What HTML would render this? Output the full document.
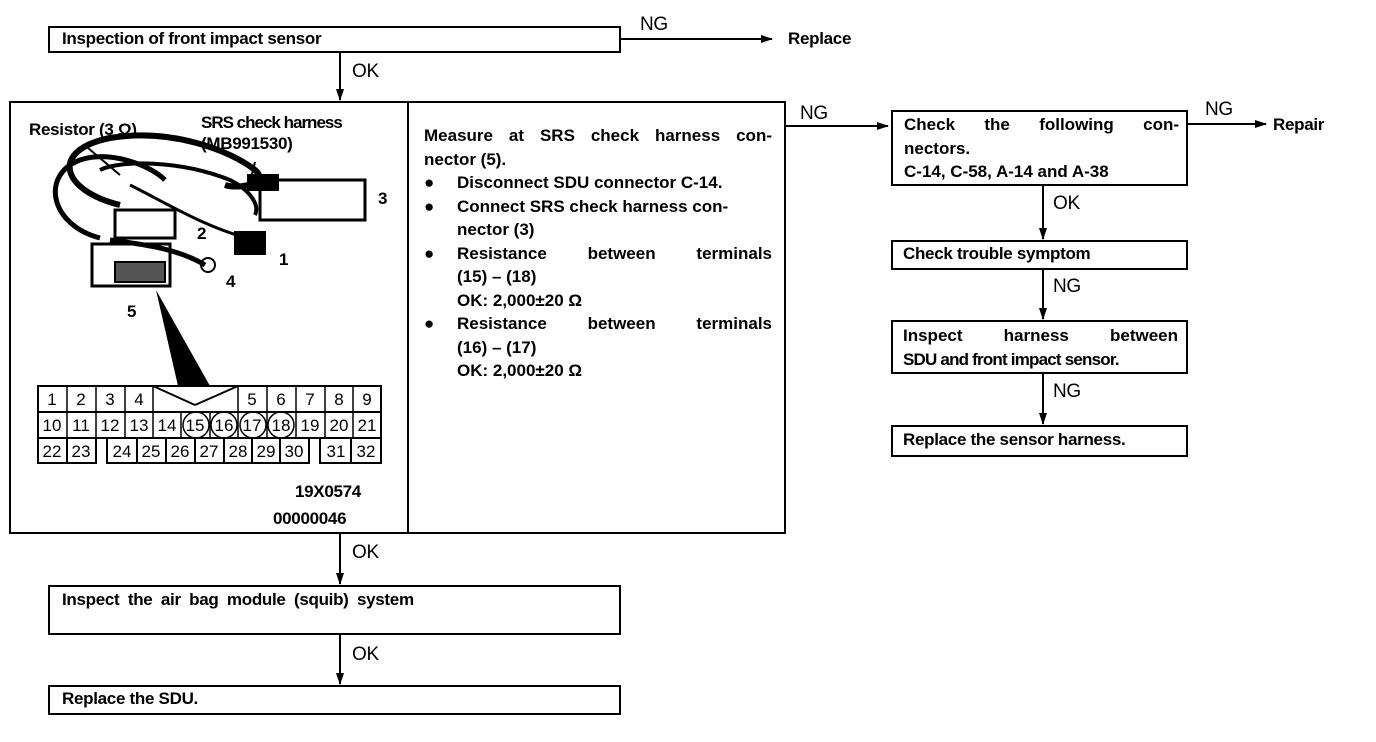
<!DOCTYPE html>
<html><head><meta charset="utf-8"><style>
body{margin:0;background:#fff;width:1376px;height:742px;position:relative;overflow:hidden;font-family:"Liberation Sans",Arial,sans-serif;font-weight:bold;color:#000}
.b{position:absolute;border:2px solid #000;box-sizing:border-box}
.t{position:absolute;font-size:17px;white-space:nowrap;letter-spacing:-0.3px}
.j{position:absolute;font-size:17px;line-height:23.5px}
.j div{text-align:justify;text-align-last:justify;height:23.5px;position:relative}
.j div.l{text-align-last:left}
.j div.p{padding-left:33px}
.j div span.d{position:absolute;left:0;top:0}
</style></head><body>
<svg width="1376" height="742" style="position:absolute;left:0;top:0">
<defs><marker id="a" markerWidth="12" markerHeight="8" refX="11" refY="4" orient="auto" markerUnits="userSpaceOnUse"><path d="M0,0 L12,4 L0,8 z"/></marker></defs>
<g stroke="#000" stroke-width="2" fill="none">
<line x1="620" y1="39" x2="772" y2="39" marker-end="url(#a)"/>
<line x1="340" y1="53" x2="340" y2="100" marker-end="url(#a)"/>
<line x1="786" y1="126" x2="888" y2="126" marker-end="url(#a)"/>
<line x1="1187" y1="124" x2="1266" y2="124" marker-end="url(#a)"/>
<line x1="1043" y1="186" x2="1043" y2="239" marker-end="url(#a)"/>
<line x1="1043" y1="270" x2="1043" y2="319" marker-end="url(#a)"/>
<line x1="1043" y1="374" x2="1043" y2="424" marker-end="url(#a)"/>
<line x1="340" y1="534" x2="340" y2="584" marker-end="url(#a)"/>
<line x1="340" y1="635" x2="340" y2="684" marker-end="url(#a)"/>
<line x1="408" y1="102" x2="408" y2="533"/>
<!-- illustration -->
<path d="M120,205 C60,190 50,150 110,138 C170,128 230,150 255,170 C270,182 240,190 225,185" stroke-width="6"/>
<path d="M100,238 C50,225 40,175 80,160 C110,150 150,165 165,180" stroke-width="5"/>
<path d="M100,170 C120,160 180,160 230,180 C250,190 260,205 255,215" stroke-width="4"/>
<path d="M130,185 C170,205 210,230 255,240" stroke-width="3"/>
<path d="M110,240 C150,245 180,250 205,265" stroke-width="5"/>
<path d="M88,148 L120,175"/><path d="M255,162 L250,182"/>
<rect x="115" y="210" width="60" height="28" stroke-width="3"/>
<rect x="260" y="180" width="105" height="40" stroke-width="3"/>
<rect x="235" y="232" width="30" height="22" fill="#000"/>
<rect x="248" y="175" width="30" height="15" fill="#000"/>
<rect x="92" y="244" width="78" height="42" stroke-width="3"/>
<rect x="115" y="262" width="50" height="20" fill="#555"/>
<circle cx="208" cy="265" r="7"/>
<line x1="153" y1="386" x2="195" y2="405"/><line x1="238" y1="386" x2="195" y2="405"/>
</g>
<polygon points="156,290 210,386 178,386" fill="#000"/>
<g stroke="#000" stroke-width="2" fill="none">
<rect x="38" y="386" width="343" height="26"/>
<rect x="38" y="412" width="343" height="26"/>
<rect x="38" y="438" width="29" height="25"/><rect x="67" y="438" width="29" height="25"/>
<rect x="107" y="438" width="30" height="25"/><rect x="137" y="438" width="29" height="25"/><rect x="166" y="438" width="29" height="25"/><rect x="195" y="438" width="29" height="25"/><rect x="224" y="438" width="28" height="25"/><rect x="252" y="438" width="28" height="25"/><rect x="280" y="438" width="29" height="25"/>
<rect x="320" y="438" width="31" height="25"/><rect x="351" y="438" width="30" height="25"/>
</g>
<g stroke="#000" stroke-width="1.5" fill="none">
<line x1="67" y1="386" x2="67" y2="412"/><line x1="96" y1="386" x2="96" y2="412"/><line x1="125" y1="386" x2="125" y2="412"/><line x1="153" y1="386" x2="153" y2="412"/>
<line x1="238" y1="386" x2="238" y2="412"/><line x1="267" y1="386" x2="267" y2="412"/><line x1="296" y1="386" x2="296" y2="412"/><line x1="325" y1="386" x2="325" y2="412"/><line x1="353" y1="386" x2="353" y2="412"/>
<line x1="67" y1="412" x2="67" y2="438"/><line x1="96" y1="412" x2="96" y2="438"/><line x1="125" y1="412" x2="125" y2="438"/><line x1="153" y1="412" x2="153" y2="438"/><line x1="181" y1="412" x2="181" y2="438"/><line x1="210" y1="412" x2="210" y2="438"/><line x1="238" y1="412" x2="238" y2="438"/><line x1="267" y1="412" x2="267" y2="438"/><line x1="296" y1="412" x2="296" y2="438"/><line x1="325" y1="412" x2="325" y2="438"/><line x1="353" y1="412" x2="353" y2="438"/>
<circle cx="196" cy="425" r="13"/><circle cx="224" cy="425" r="13"/><circle cx="253" cy="425" r="13"/><circle cx="281" cy="425" r="13"/>
</g>
<g font-family="Liberation Sans,sans-serif" font-size="17" font-weight="normal" text-anchor="middle">
<text x="52" y="405">1</text><text x="81" y="405">2</text><text x="110" y="405">3</text><text x="139" y="405">4</text><text x="252" y="405">5</text><text x="281" y="405">6</text><text x="310" y="405">7</text><text x="339" y="405">8</text><text x="367" y="405">9</text>
<text x="52" y="431">10</text><text x="81" y="431">11</text><text x="110" y="431">12</text><text x="139" y="431">13</text><text x="167" y="431">14</text><text x="195" y="431">15</text><text x="224" y="431">16</text><text x="252" y="431">17</text><text x="281" y="431">18</text><text x="310" y="431">19</text><text x="339" y="431">20</text><text x="367" y="431">21</text>
<text x="52" y="457">22</text><text x="81" y="457">23</text><text x="122" y="457">24</text><text x="151" y="457">25</text><text x="180" y="457">26</text><text x="209" y="457">27</text><text x="238" y="457">28</text><text x="266" y="457">29</text><text x="294" y="457">30</text><text x="336" y="457">31</text><text x="366" y="457">32</text>
</g>
</svg>
<div class="b" style="left:48px;top:26px;width:573px;height:27px"></div>
<div class="t" style="left:62px;top:29px">Inspection of front impact sensor</div>
<div class="t" style="left:640px;top:14px;font-weight:normal;font-size:19px">NG</div>
<div class="t" style="left:788px;top:29px">Replace</div>
<div class="t" style="left:352px;top:61px;font-weight:normal;font-size:19px">OK</div>
<div class="b" style="left:9px;top:101px;width:777px;height:433px"></div>
<div class="t" style="left:29px;top:120px">Resistor (3 Ω)</div>
<div class="t" style="left:201px;top:113px;letter-spacing:-1px">SRS check harness</div>
<div class="t" style="left:201px;top:134px">(MB991530)</div>
<div class="t" style="left:378px;top:189px">3</div>
<div class="t" style="left:197px;top:224px">2</div>
<div class="t" style="left:279px;top:250px">1</div>
<div class="t" style="left:226px;top:272px">4</div>
<div class="t" style="left:127px;top:302px">5</div>
<div class="t" style="left:295px;top:482px">19X0574</div>
<div class="t" style="left:273px;top:509px">00000046</div>
<div class="j" style="left:424px;top:124px;width:348px">
<div>Measure at SRS check harness con-</div>
<div class="l">nector (5).</div>
<div class="l p"><span class="d">●</span>Disconnect SDU connector C-14.</div>
<div class="l p"><span class="d">●</span>Connect SRS check harness con-</div>
<div class="l p">nector (3)</div>
<div class="p"><span class="d">●</span>Resistance between terminals</div>
<div class="l p">(15) – (18)</div>
<div class="l p">OK: 2,000±20 Ω</div>
<div class="p"><span class="d">●</span>Resistance between terminals</div>
<div class="l p">(16) – (17)</div>
<div class="l p">OK: 2,000±20 Ω</div>
</div>
<div class="t" style="left:800px;top:103px;font-weight:normal;font-size:19px">NG</div>
<div class="b" style="left:891px;top:110px;width:297px;height:76px"></div>
<div class="j" style="left:904px;top:113px;width:275px">
<div>Check the following con-</div><div class="l">nectors.</div><div class="l">C-14, C-58, A-14 and A-38</div></div>
<div class="t" style="left:1205px;top:99px;font-weight:normal;font-size:19px">NG</div>
<div class="t" style="left:1273px;top:115px">Repair</div>
<div class="t" style="left:1053px;top:193px;font-weight:normal;font-size:19px">OK</div>
<div class="b" style="left:891px;top:240px;width:297px;height:30px"></div>
<div class="t" style="left:903px;top:244px">Check trouble symptom</div>
<div class="t" style="left:1053px;top:276px;font-weight:normal;font-size:19px">NG</div>
<div class="b" style="left:891px;top:320px;width:297px;height:54px"></div>
<div class="j" style="left:903px;top:324px;width:275px"><div>Inspect harness between</div><div class="l" style="letter-spacing:-0.8px">SDU and front impact sensor.</div></div>
<div class="t" style="left:1053px;top:381px;font-weight:normal;font-size:19px">NG</div>
<div class="b" style="left:891px;top:425px;width:297px;height:32px"></div>
<div class="t" style="left:903px;top:430px">Replace the sensor harness.</div>
<div class="t" style="left:352px;top:542px;font-weight:normal;font-size:19px">OK</div>
<div class="b" style="left:48px;top:585px;width:573px;height:50px"></div>
<div class="t" style="left:62px;top:590px;word-spacing:4px">Inspect the air bag module (squib) system</div>
<div class="t" style="left:352px;top:644px;font-weight:normal;font-size:19px">OK</div>
<div class="b" style="left:48px;top:685px;width:573px;height:30px"></div>
<div class="t" style="left:62px;top:689px">Replace the SDU.</div>
</body></html>
